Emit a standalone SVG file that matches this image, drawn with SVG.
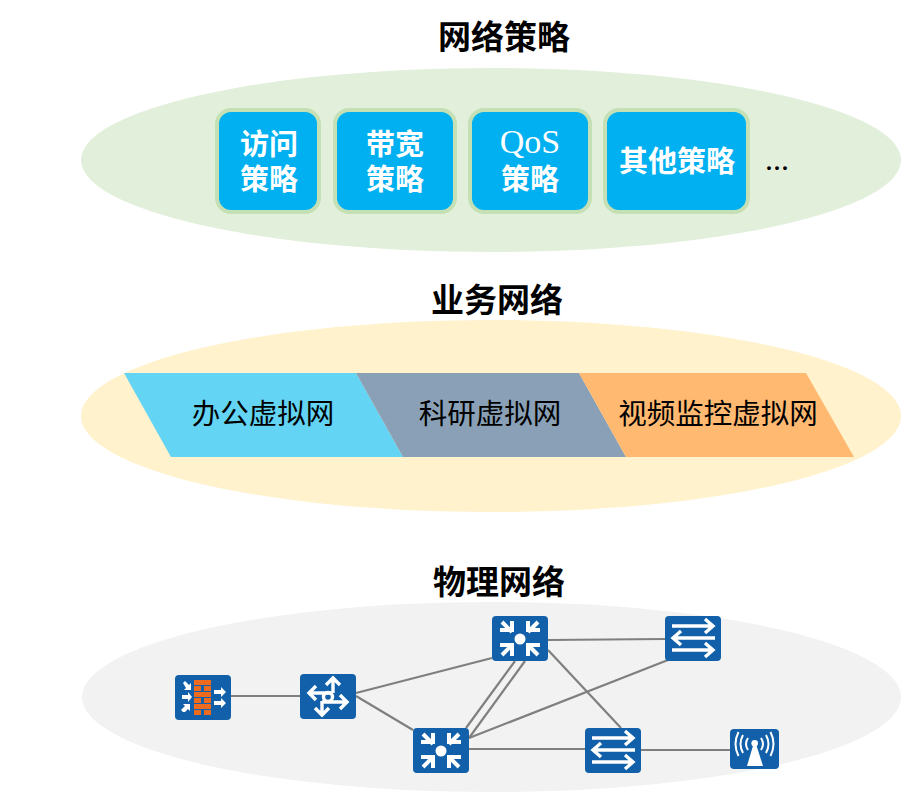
<svg xmlns="http://www.w3.org/2000/svg" xmlns:xlink="http://www.w3.org/1999/xlink" width="914" height="801" viewBox="0 0 914 801">
<style>
text{font-family:"Liberation Serif","Noto Sans CJK SC",sans-serif;text-anchor:middle}
.t{font-size:33px;font-weight:700;fill:#000}
.p{font-size:29px;font-weight:700;fill:#fff}
.v{font-size:28.5px;fill:#000}
.box{fill:#00b0f0;stroke:#c5e0b4;stroke-width:4}
.dev{fill:#1160a9}
.w{fill:none;stroke:#fff;stroke-width:3.4}
.k{fill:none;stroke:#fff;stroke-width:4}
.wf{fill:#fff}
.c{stroke:#7f7f7f;stroke-width:2.2;fill:none}
.b{fill:#ed6b1f}
</style>
<defs>
<g id="core">
<rect class="dev" width="56" height="45" rx="4"/>
<circle class="wf" cx="28" cy="23" r="5.5"/>
<g class="k">
<path d="M10 6l10 10M8 14h12V5"/>
<path d="M46 6l-10 10M48 14H36V5"/>
<path d="M10 39l10-10M8 29h12v11"/>
<path d="M46 39l-10-10M48 29H36v11"/>
</g>
</g>
<g id="sw">
<rect class="dev" width="56" height="45" rx="4"/>
<g class="w">
<path d="M7 10h41M40 3l8 7-8 7"/>
<path d="M50 22H9M16 15l-8 7 8 7"/>
<path d="M7 34h41M40 27l8 7-8 7"/>
</g>
</g>
</defs>
<ellipse cx="491" cy="160" rx="410" ry="92" fill="#e2efda"/>
<ellipse cx="491" cy="416" rx="410" ry="96" fill="#fff2cc"/>
<ellipse cx="491.500" cy="697" rx="409.500" ry="95" fill="#f2f2f2"/>
<text class="t" x="504" y="49">网络策略</text>
<text class="t" x="497" y="312">业务网络</text>
<text class="t" x="499" y="594">物理网络</text>
<g id="policy-access"><rect class="box" x="217" y="110" width="102" height="102" rx="14"/><text class="p" x="269" y="155">访问</text><text class="p" x="269" y="190">策略</text></g>
<g id="policy-bandwidth"><rect class="box" x="335" y="110" width="120" height="102" rx="14"/><text class="p" x="395" y="155">带宽</text><text class="p" x="395" y="190">策略</text></g>
<g id="policy-qos"><rect class="box" x="470" y="110" width="120" height="102" rx="14"/><text class="p" x="530" y="153" style="font-size:34px;font-weight:400">QoS</text><text class="p" x="530" y="190">策略</text></g>
<g id="policy-other"><rect class="box" x="605" y="110" width="143" height="102" rx="14"/><text class="p" x="677" y="172">其他策略</text></g>
<text x="777" y="170" style="font-size:32px">...</text>
<g id="vn-office"><polygon points="124,373 356,373 403,457 171,457" fill="#63d4f4"/><text class="v" x="263" y="424">办公虚拟网</text></g>
<g id="vn-research"><polygon points="356,373 579,373 626,457 403,457" fill="#8aa0b6"/><text class="v" x="490" y="424">科研虚拟网</text></g>
<g id="vn-video"><polygon points="579,373 806,373 854,457 626,457" fill="#ffb971"/><text class="v" x="718" y="424">视频监控虚拟网</text></g>
<g id="connectors">
<path class="c" d="M231 696H300"/>
<path class="c" d="M356 693L492 658"/>
<path class="c" d="M356 696L413 730"/>
<path class="c" d="M548 640L665 639"/>
<path class="c" d="M515 661L466 728"/>
<path class="c" d="M525 661L469 738"/>
<path class="c" d="M469 738L668 660"/>
<path class="c" d="M548 650L621 728"/>
<path class="c" d="M469 749H585"/>
<path class="c" d="M641 750H730"/>
</g>
<g id="firewall" transform="translate(175 675)">
<rect class="dev" width="56" height="45" rx="4"/>
<g class="b"><rect x="19" y="5" width="17" height="5"/><rect x="19" y="11" width="7" height="5"/><rect x="29" y="11" width="7" height="5"/><rect x="19" y="17" width="17" height="5"/><rect x="19" y="23" width="7" height="5"/><rect x="29" y="23" width="7" height="5"/><rect x="19" y="29" width="17" height="5"/><rect x="19" y="35" width="7" height="5"/><rect x="29" y="35" width="7" height="5"/></g>
<g class="wf">
<path d="M8 8l2-2 4 4 2-2 0 7h-7l2-2z"/>
<path d="M7 20h6v-3l4 5-4 5v-3H7z"/>
<path d="M8 37l-2-2 4-4-2-2h7v7l-2-2-3 3z"/>
<path d="M39 15h7v-3l5 5-5 5v-3h-7z"/>
<path d="M39 26h7v-3l5 5-5 5v-3h-7z"/>
</g>
</g>
<g id="router" transform="translate(300 674)">
<rect class="dev" width="56" height="45" rx="4"/>
<circle class="w" cx="28" cy="23" r="4.500"/>
<g class="w">
<path d="M33 19H9M16 12l-7 7 7 7"/>
<path d="M33 19V5M26 11l7-7 7 7"/>
<path d="M22 27V40M15 34l7 7 7-7"/>
<path d="M22 28H46M40 21l7 7-7 7"/>
</g>
</g>
<use id="core-top" xlink:href="#core" href="#core" x="492" y="616"/>
<use id="core-bottom" xlink:href="#core" href="#core" x="413" y="728"/>
<use id="switch-top" xlink:href="#sw" href="#sw" x="665" y="616"/>
<use id="switch-bottom" xlink:href="#sw" href="#sw" x="585" y="728"/>
<g id="ap" transform="translate(730 729)">
<rect class="dev" width="49" height="40" rx="4"/>
<circle class="wf" cx="24.700" cy="14.300" r="3.300"/>
<path class="wf" d="M23.500 15h2.500l7 22H17z"/>
<g fill="none" stroke="#fff" stroke-width="2">
<path d="M18 9q-4 6 0 12M31 9q4 6 0 12"/>
<path d="M13 6q-5 9 0 18M36 6q5 9 0 18"/>
<path d="M8.500 3q-6 12 0 24M40.500 3q6 12 0 24"/>
</g>
</g>
</svg>
